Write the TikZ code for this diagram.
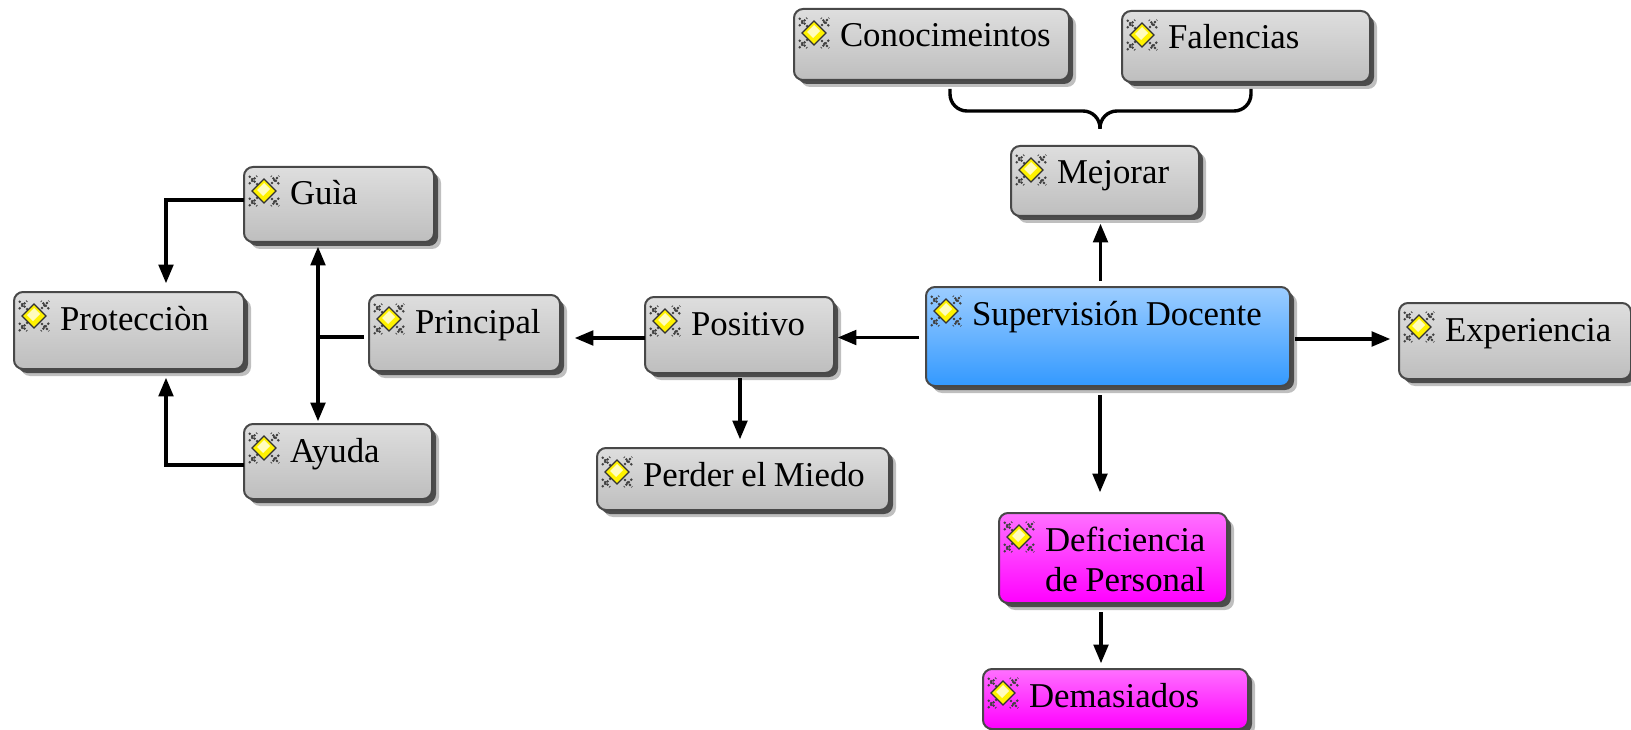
\documentclass[tikz,border=0pt]{standalone}
\usepackage{fontspec}
\setmainfont{Liberation Serif}
\usepackage{xcolor}
\usetikzlibrary{arrows,positioning,shadows}
\definecolor{edgegray}{HTML}{484848}
\definecolor{grayhi}{HTML}{DEDEDE}
\definecolor{graylo}{HTML}{BEBEBE}
\definecolor{bluehi}{HTML}{9CCDFF}
\definecolor{bluelo}{HTML}{3399FF}
\definecolor{pinkhi}{HTML}{FF70FF}
\definecolor{pinklo}{HTML}{FF00FF}
\newcommand{\boxstart}{\spaceskip=7.5pt\relax\hspace*{46pt}}
\tikzset{
    %Define standard arrow tip
    >=triangle 45,
    %Small gem shown in each box
    gem/.pic={
           \draw[sharp corners,black!75,line width=2pt,dash pattern=on 2pt off 1.5pt]
                (-15pt,-7pt) -- (-7pt,-15pt) (-15pt,7pt) -- (-7pt,15pt)
                (15pt,-7pt) -- (7pt,-15pt) (15pt,7pt) -- (7pt,15pt)
                (-15pt,-15pt) -- (15pt,15pt) (-15pt,15pt) -- (15pt,-15pt);
           \fill[sharp corners,yellow] (-12pt,0pt) -- (0pt,12pt) -- (12pt,0pt) -- (0pt,-12pt) -- cycle;
           \fill[sharp corners,yellow!25] (-7pt,1pt) -- (0pt,8pt) -- (6pt,2pt) -- (-1pt,-5pt) -- cycle;
           \draw[sharp corners,black!80,line width=1.2pt] (-12pt,0pt) -- (0pt,12pt) -- (12pt,0pt) -- (0pt,-12pt) -- cycle;},
    %Define style for boxes
    box/.style 2 args={
           rectangle,
           rounded corners=9pt,
           draw=edgegray,
           line width=2pt,
           inner sep=0pt,
           outer sep=0pt,
           text width=#1,
           text height=38pt,
           text depth=#2-38pt,
           align=left,
           font=\fontsize{34.8}{40}\selectfont,
           execute at begin node=\boxstart,
           drop shadow={shadow xshift=7pt,shadow yshift=-7pt,fill=black,opacity=.25},
           drop shadow={shadow xshift=4pt,shadow yshift=-4pt,fill=black,opacity=.6},
           top color=grayhi,
           bottom color=graylo,
           path picture={\pic at ([shift={(20pt,-24pt)}]path picture bounding box.north west) {gem};}},
    bluebox/.style={top color=bluehi,bottom color=bluelo},
    pinkbox/.style={top color=pinkhi,bottom color=pinklo},
    % Define arrow style
    pil/.style={
           ->,
           line width=3.4pt},
    plain/.style={
           line width=3.4pt,
           rounded corners=17pt}
}
\begin{document}
\begin{tikzpicture}
\useasboundingbox (0pt,0pt) rectangle (1631pt,-730pt);
 %nodes
\node[box={364pt}{99pt},bluebox](sup) at (1108pt,-336.5pt){Supervisión Docente};
\node[box={188pt}{70pt},above=71pt of sup,xshift=-3pt](mej){Mejorar};
\node[box={275pt}{71pt},above=66pt of mej,xshift=-173.5pt](cono){Conocimeintos};
\node[box={248pt}{71pt},right=53pt of cono,yshift=-2pt](fal){Falencias};
\node[box={232pt}{76pt},right=109pt of sup,yshift=-4.5pt](exp){Experiencia};
\node[box={189pt}{76pt},left=92pt of sup,yshift=1.5pt](pos){Positivo};
\node[box={292pt}{62pt},below=75pt of pos,xshift=3.5pt](perd){Perder el Miedo};
\node[box={191pt}{76pt},left=85pt of pos,yshift=2pt](prin){Principal};
\node[box={190pt}{75pt},above left=53pt and -65pt of prin](guia){Guìa};
\node[box={188pt}{75pt},below left=53pt and -63pt of prin](ayu){Ayuda};
\node[box={230pt}{77pt},below left=50pt and 0pt of guia](prot){Protecciòn};
\node[box={228pt}{90pt},pinkbox,below=127pt of sup,xshift=5pt](defi){Deficiencia\\\hspace*{46pt}de Personal};
\node[box={265pt}{60pt},pinkbox,below=66pt of defi,xshift=2.5pt](dem){Demasiados};
 %helper points
\coordinate(tip) at ([xshift=-5pt,yshift=17pt]mej.north);
\coordinate(lb) at ([xshift=18.5pt,yshift=-9pt]cono.south);
\coordinate(rb) at ([xshift=5pt,yshift=-7pt]fal.south);
\coordinate(junc) at ([xshift=-51pt,yshift=-4pt]prin.west);
 %connectors
\draw[plain] (lb) |- ([yshift=18pt]tip) -- (tip);
\draw[plain] (rb) |- ([yshift=18pt]tip) -- (tip);
\draw[pil,shorten <=6pt,shorten >=8pt] ([xshift=-7.5pt]sup.north) -- ([xshift=-7.5pt]sup.north |- mej.south);
\draw[pil,shorten <=7pt,shorten >=4pt] ([yshift=-1pt]sup.west) -- ([yshift=-1pt]sup.west -| pos.east);
\draw[pil,shorten >=15pt] ([yshift=-3pt]pos.west) -- ([yshift=-3pt]pos.west -| prin.east);
\draw[pil,shorten <=5pt,shorten >=9pt] ([yshift=-2.5pt]sup.east) -- ([yshift=-2.5pt]sup.east -| exp.west);
\draw[pil,shorten <=9pt,shorten >=21pt] ([xshift=-8pt]sup.south) -- ([xshift=-8pt]sup.south |- defi.north);
\draw[pil,shorten <=9pt,shorten >=6pt] ([xshift=-12pt]defi.south) -- ([xshift=-12pt]defi.south |- dem.north);
\draw[pil,shorten <=5pt,shorten >=9pt] ([xshift=.5pt]pos.south) -- ([xshift=.5pt]pos.south |- perd.north);
\draw[line width=3.4pt,shorten <=5pt] ([yshift=-4pt]prin.west) -- (junc);
\draw[pil,<->,shorten <=5pt,shorten >=3pt] (junc |- guia.south) -- (junc |- ayu.north);
\draw[pil,shorten >=9pt] ([yshift=4.5pt]guia.west) -| ([xshift=37pt]prot.north);
\draw[pil,shorten >=9pt] ([yshift=-3.5pt]ayu.west) -| ([xshift=37pt]prot.south);
\end{tikzpicture}
\end{document}
